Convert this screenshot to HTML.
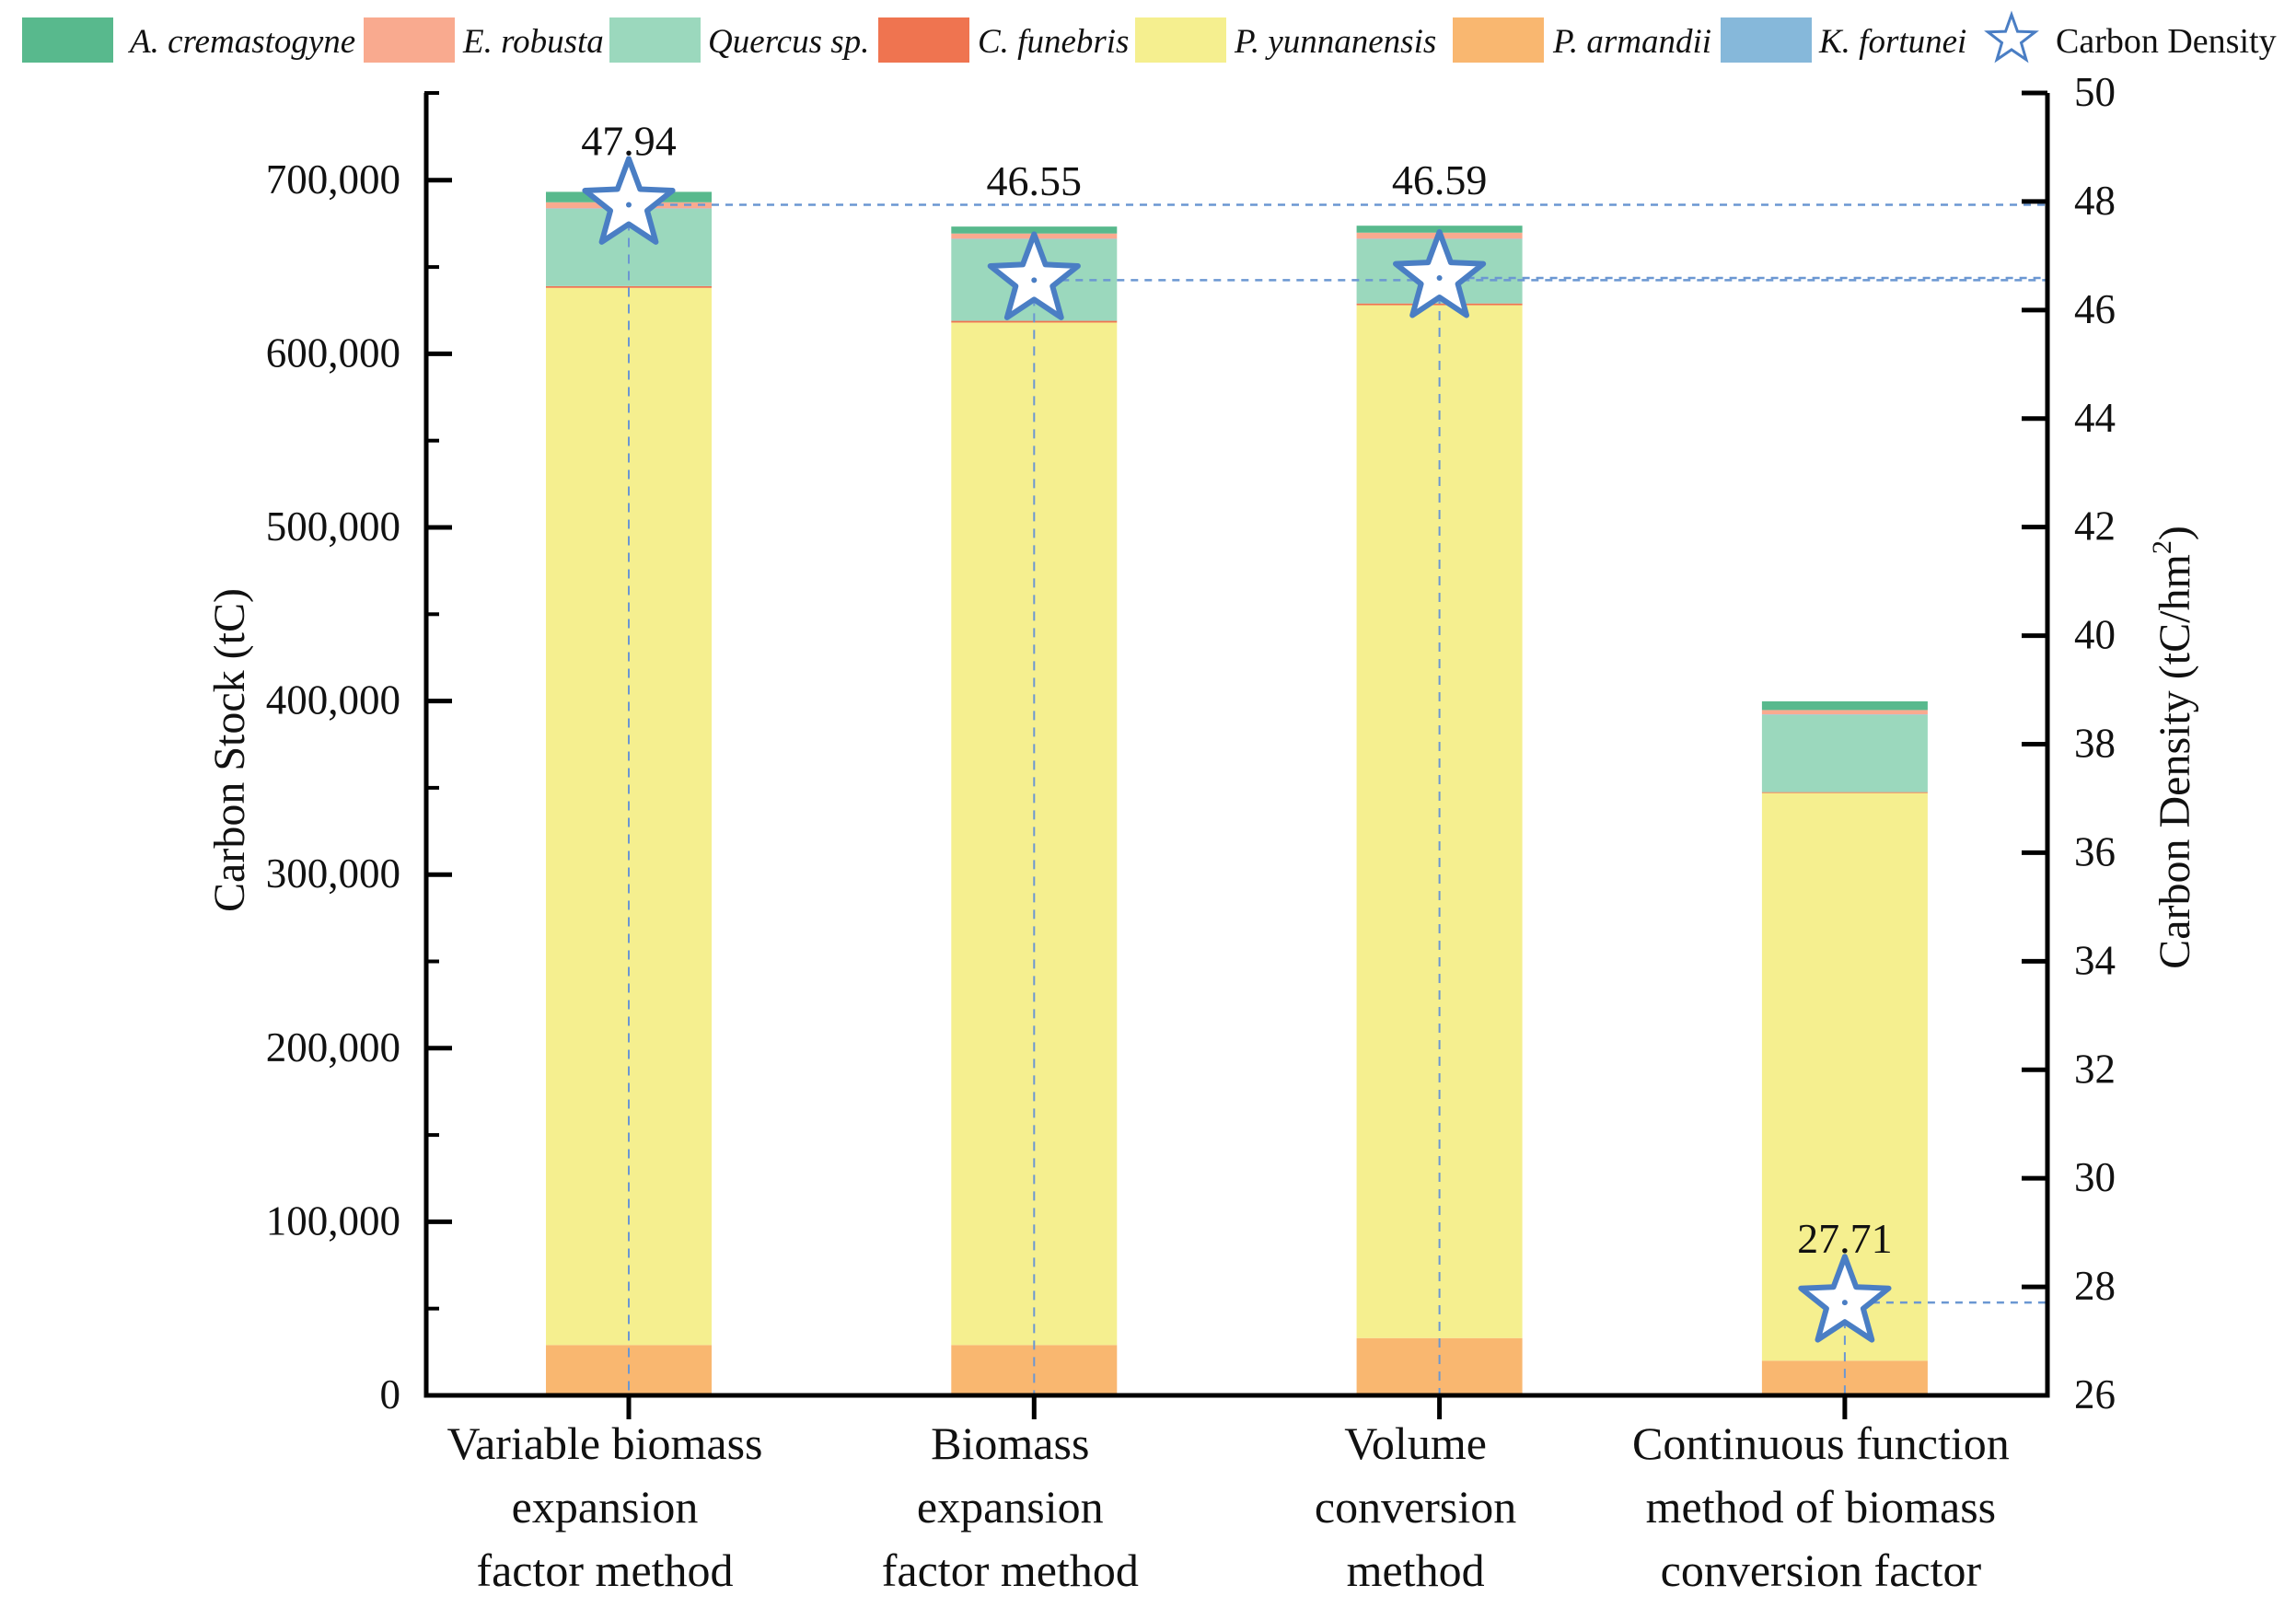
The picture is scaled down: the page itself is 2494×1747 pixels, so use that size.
<!DOCTYPE html>
<html><head><meta charset="utf-8"><style>
html,body{margin:0;padding:0;background:#fff;}
svg{display:block;font-family:"Liberation Serif",serif;}
</style></head><body>
<svg id="chart" width="2494" height="1747" viewBox="0 0 2494 1747" xmlns="http://www.w3.org/2000/svg"></svg>
<script>
const categories = [["Variable biomass","expansion","factor method"],["Biomass","expansion","factor method"],["Volume","conversion","method"],["Continuous function","method of biomass","conversion factor"]];
const seriesNames = ["P. armandii","P. yunnanensis","C. funebris","Quercus sp.","K. fortunei","E. robusta","A. cremastogyne"];
const pArmandii = [29000, 29000, 33000, 20000];
const pYunnanensis = [609000, 589000, 595000, 327000];
const cFunebris = [1000, 1000, 1000, 500];
const quercus = [44500, 47000, 37000, 44500];
const kFortunei = [300, 300, 300, 300];
const eRobusta = [3500, 3000, 3500, 2500];
const aCremastogyne = [6000, 4000, 4000, 5000];
const density = [47.94, 46.55, 46.59, 27.71];
const densityLabels = ["47.94","46.55","46.59","27.71"];
const leftTicks = [0,100000,200000,300000,400000,500000,600000,700000];
const leftTickLabels = ["0","100,000","200,000","300,000","400,000","500,000","600,000","700,000"];
const rightTicks = [26,28,30,32,34,36,38,40,42,44,46,48,50];

const colors = {"A. cremastogyne":"#58b98d","E. robusta":"#f9aa8f","Quercus sp.":"#9bd8bd","C. funebris":"#ef7450","P. yunnanensis":"#f5ef8f","P. armandii":"#f9b770","K. fortunei":"#86b8da"};
const seriesData = [pArmandii,pYunnanensis,cFunebris,quercus,kFortunei,eRobusta,aCremastogyne];

const NS="http://www.w3.org/2000/svg";
const svg=document.getElementById('chart');
function mk(tag,attrs,parent){const e=document.createElementNS(NS,tag);for(const k in attrs)e.setAttribute(k,attrs[k]);(parent||svg).appendChild(e);return e;}

const X0=463, X1=2224, Y0=1516, YT=101;
const yL = v => Y0 - v/100000*188.6;
const yR = v => Y0 - (v-26)*(Y0-YT)/24;
const xC = i => 683 + i*440.3;
const BW = 180;
const barTops=[];

categories.forEach((c,i)=>{
  let acc=0;
  seriesData.forEach((arr,si)=>{
    const v=arr[i]; const y1=yL(acc), y2=yL(acc+v);
    const r=mk('rect',{x:xC(i)-BW/2,y:y2,width:BW,height:y1-y2,fill:colors[seriesNames[si]]});
    
    
    acc+=v;
  });
  barTops.push(yL(acc));
});

density.forEach((d,i)=>{
  const cy=yR(d), cx=xC(i);
  const v=mk('line',{x1:cx,y1:cy,x2:cx,y2:Y0,stroke:'#6b97d2','stroke-width':2,'stroke-dasharray':'10,8'});
  
  
  const h=mk('line',{x1:cx,y1:cy,x2:X1,y2:cy,stroke:'#6b97d2','stroke-width':2.5,'stroke-dasharray':'8,7'});
  
  
});

function starPts(cx,cy,R,r){let p=[];for(let k=0;k<10;k++){const a=-Math.PI/2+k*Math.PI/5;const rr=k%2?r:R;p.push((cx+rr*Math.cos(a)).toFixed(1)+','+(cy+rr*Math.sin(a)).toFixed(1));}return p.join(' ');}

density.forEach((d,i)=>{
  const cy=yR(d), cx=xC(i);
  const s=mk('polygon',{points:starPts(cx,cy,50,21),fill:'#fff',stroke:'#4a7ec4','stroke-width':6,'stroke-linejoin':'round'});
  
  
  mk('circle',{cx:cx,cy:cy,r:3,fill:'#4a7ec4'});
  const gap=cy-barTops[i];
  const ly=(gap>30 && gap<150) ? barTops[i]-34 : cy-54;
  const t=mk('text',{x:cx,y:ly,'font-size':46,'text-anchor':'middle',fill:'#111'});
  t.textContent=densityLabels[i];
  
  
});

const ax=mk('path',{d:`M${X0},${YT} V${Y0} H${X1} V${YT}`,fill:'none',stroke:'#000','stroke-width':5});


mk('line',{x1:X0-2,y1:YT,x2:X0+14,y2:YT,stroke:'#000','stroke-width':4});
leftTicks.forEach((v,i)=>{
  mk('line',{x1:X0,y1:yL(v),x2:X0+28,y2:yL(v),stroke:'#000','stroke-width':5});
  const t=mk('text',{x:435,y:yL(v)+14,'font-size':45,'text-anchor':'end',fill:'#111'});
  t.textContent=leftTickLabels[i];
  
  
  if(i<leftTicks.length-1) mk('line',{x1:X0,y1:yL(v+50000),x2:X0+14,y2:yL(v+50000),stroke:'#000','stroke-width':4});
});
rightTicks.forEach(v=>{
  mk('line',{x1:X1,y1:yR(v),x2:X1-28,y2:yR(v),stroke:'#000','stroke-width':5});
  const t=mk('text',{x:2253,y:yR(v)+14,'font-size':45,fill:'#111'});
  t.textContent=String(v);
  
  
});
categories.forEach((lines,i)=>{
  mk('line',{x1:xC(i),y1:Y0,x2:xC(i),y2:Y0+26,stroke:'#000','stroke-width':5});
  lines.forEach((ln,j)=>{
    const t=mk('text',{x:xC(i)-26,y:1585+j*69,'font-size':50,'text-anchor':'middle',fill:'#111'});
    t.textContent=ln;
    
    
  });
});
const yt=mk('text',{x:0,y:0,'font-size':48,'text-anchor':'middle',fill:'#111',transform:'translate(265,815) rotate(-90)'});
yt.textContent='Carbon Stock (tC)';


const yt2=mk('text',{x:0,y:0,'font-size':48,'text-anchor':'middle',fill:'#111',transform:'translate(2378,812) rotate(-90)'});
yt2.innerHTML='Carbon Density (tC/hm<tspan font-size="30" dy="-20">2</tspan><tspan dy="20">)</tspan>';



const legendOrder=[["A. cremastogyne",24,141],["E. robusta",395,503],["Quercus sp.",662,769],["C. funebris",954,1062],["P. yunnanensis",1233,1341],["P. armandii",1578,1687],["K. fortunei",1869,1976]];
legendOrder.forEach(([n,sx,tx])=>{
  const g=mk('g',{});
  
  
  mk('rect',{x:sx,y:19,width:99,height:49,fill:colors[n]},g);
  const t=mk('text',{x:tx,y:57,'font-size':37,'font-style':'italic',fill:'#111'},g);
  t.textContent=n;
});
const lg=mk('g',{});


mk('polygon',{points:starPts(2185,43,27,11),fill:'#fff',stroke:'#4a7ec4','stroke-width':3},lg);
const lt=mk('text',{x:2233,y:57,'font-size':38,fill:'#111'},lg);
lt.textContent='Carbon Density';
</script>
</body></html>
